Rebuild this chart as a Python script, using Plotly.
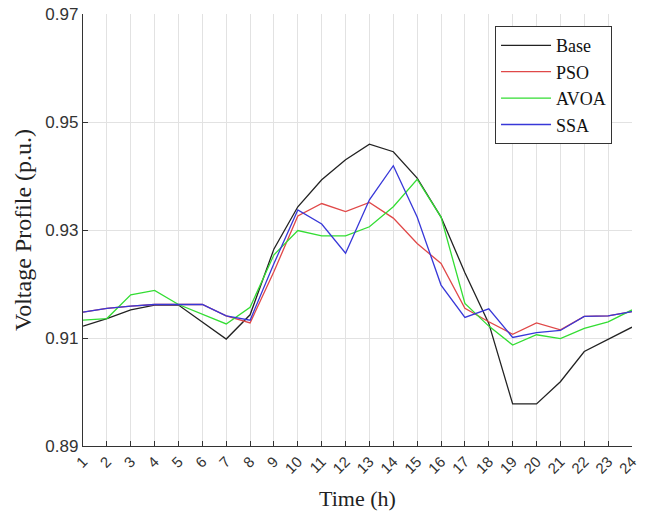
import plotly.graph_objects as go

hours = list(range(1, 25))
base = [0.9122, 0.9136, 0.9152, 0.9161, 0.9161, 0.9130, 0.9098, 0.9143, 0.9265, 0.9343,
        0.9393, 0.9430, 0.9459, 0.9445, 0.9396, 0.9324, 0.9221, 0.9127, 0.8978, 0.8978,
        0.9019, 0.9075, 0.9098, 0.9120]
pso = [0.9148, 0.9155, 0.9159, 0.9162, 0.9162, 0.9162, 0.9141, 0.9128, 0.9223, 0.9326,
       0.9349, 0.9334, 0.9351, 0.9322, 0.9275, 0.9238, 0.9155, 0.9130, 0.9107, 0.9128,
       0.9115, 0.9140, 0.9141, 0.9149]
avoa = [0.9133, 0.9136, 0.9180, 0.9188, 0.9162, 0.9144, 0.9126, 0.9157, 0.9254, 0.9299,
        0.9289, 0.9289, 0.9306, 0.9343, 0.9394, 0.9324, 0.9164, 0.9122, 0.9087, 0.9106,
        0.9099, 0.9118, 0.9130, 0.9152]
ssa = [0.9148, 0.9155, 0.9159, 0.9162, 0.9162, 0.9162, 0.9141, 0.9133, 0.9238, 0.9337,
       0.9311, 0.9257, 0.9356, 0.9419, 0.9324, 0.9198, 0.9138, 0.9154, 0.9101, 0.9110,
       0.9114, 0.9140, 0.9141, 0.9149]
y_ticks = [0.89, 0.91, 0.93, 0.95, 0.97]

series = [("Base", base, "#222222"), ("PSO", pso, "#e04848"),
          ("AVOA", avoa, "#33dd33"), ("SSA", ssa, "#3838d8")]

fig = go.Figure()
for name, vals, col in series:
    fig.add_trace(go.Scatter(x=hours, y=vals, mode="lines", name=name,
                             line=dict(color=col, width=1.3)))

serif = "Liberation Serif, Times New Roman, serif"
sans = "Liberation Sans, Arial, sans-serif"

fig.update_layout(
    width=652, height=513,
    margin=dict(l=83, r=20, t=14, b=67),
    paper_bgcolor="white", plot_bgcolor="white",
    legend=dict(x=0.7505, y=0.972, xanchor="left", yanchor="top",
                bgcolor="white", bordercolor="#333333", borderwidth=1,
                font=dict(family=serif, size=18, color="#111111"),
                itemwidth=50, tracegroupgap=0),
    xaxis=dict(range=[1, 24], tickmode="array", tickvals=hours,
               ticktext=[str(h) for h in hours], tickangle=-45,
               showgrid=True, gridcolor="#e2e2e2", gridwidth=1,
               showline=True, linecolor="#333333", linewidth=1.3,
               ticks="inside", ticklen=5, tickcolor="#333333",
               tickfont=dict(family=sans, size=15, color="#333333"),
               zeroline=False, automargin=False,
               title=dict(text="Time (h)", font=dict(family=serif, size=22, color="#222222"),
                          standoff=14)),
    yaxis=dict(range=[0.89, 0.97], tickmode="array", tickvals=y_ticks,
               ticktext=[f"{v:.2f}" for v in y_ticks],
               showgrid=True, gridcolor="#e2e2e2", gridwidth=1,
               showline=True, linecolor="#333333", linewidth=1.3,
               ticks="inside", ticklen=5, tickcolor="#333333",
               tickfont=dict(family=sans, size=17, color="#333333"),
               ticklabelstandoff=0, zeroline=False, automargin=False,
               title=dict(text="Voltage Profile (p.u.)",
                          font=dict(family=serif, size=24, color="#222222"),
                          standoff=6)),
)

fig.write_html("out.html")
